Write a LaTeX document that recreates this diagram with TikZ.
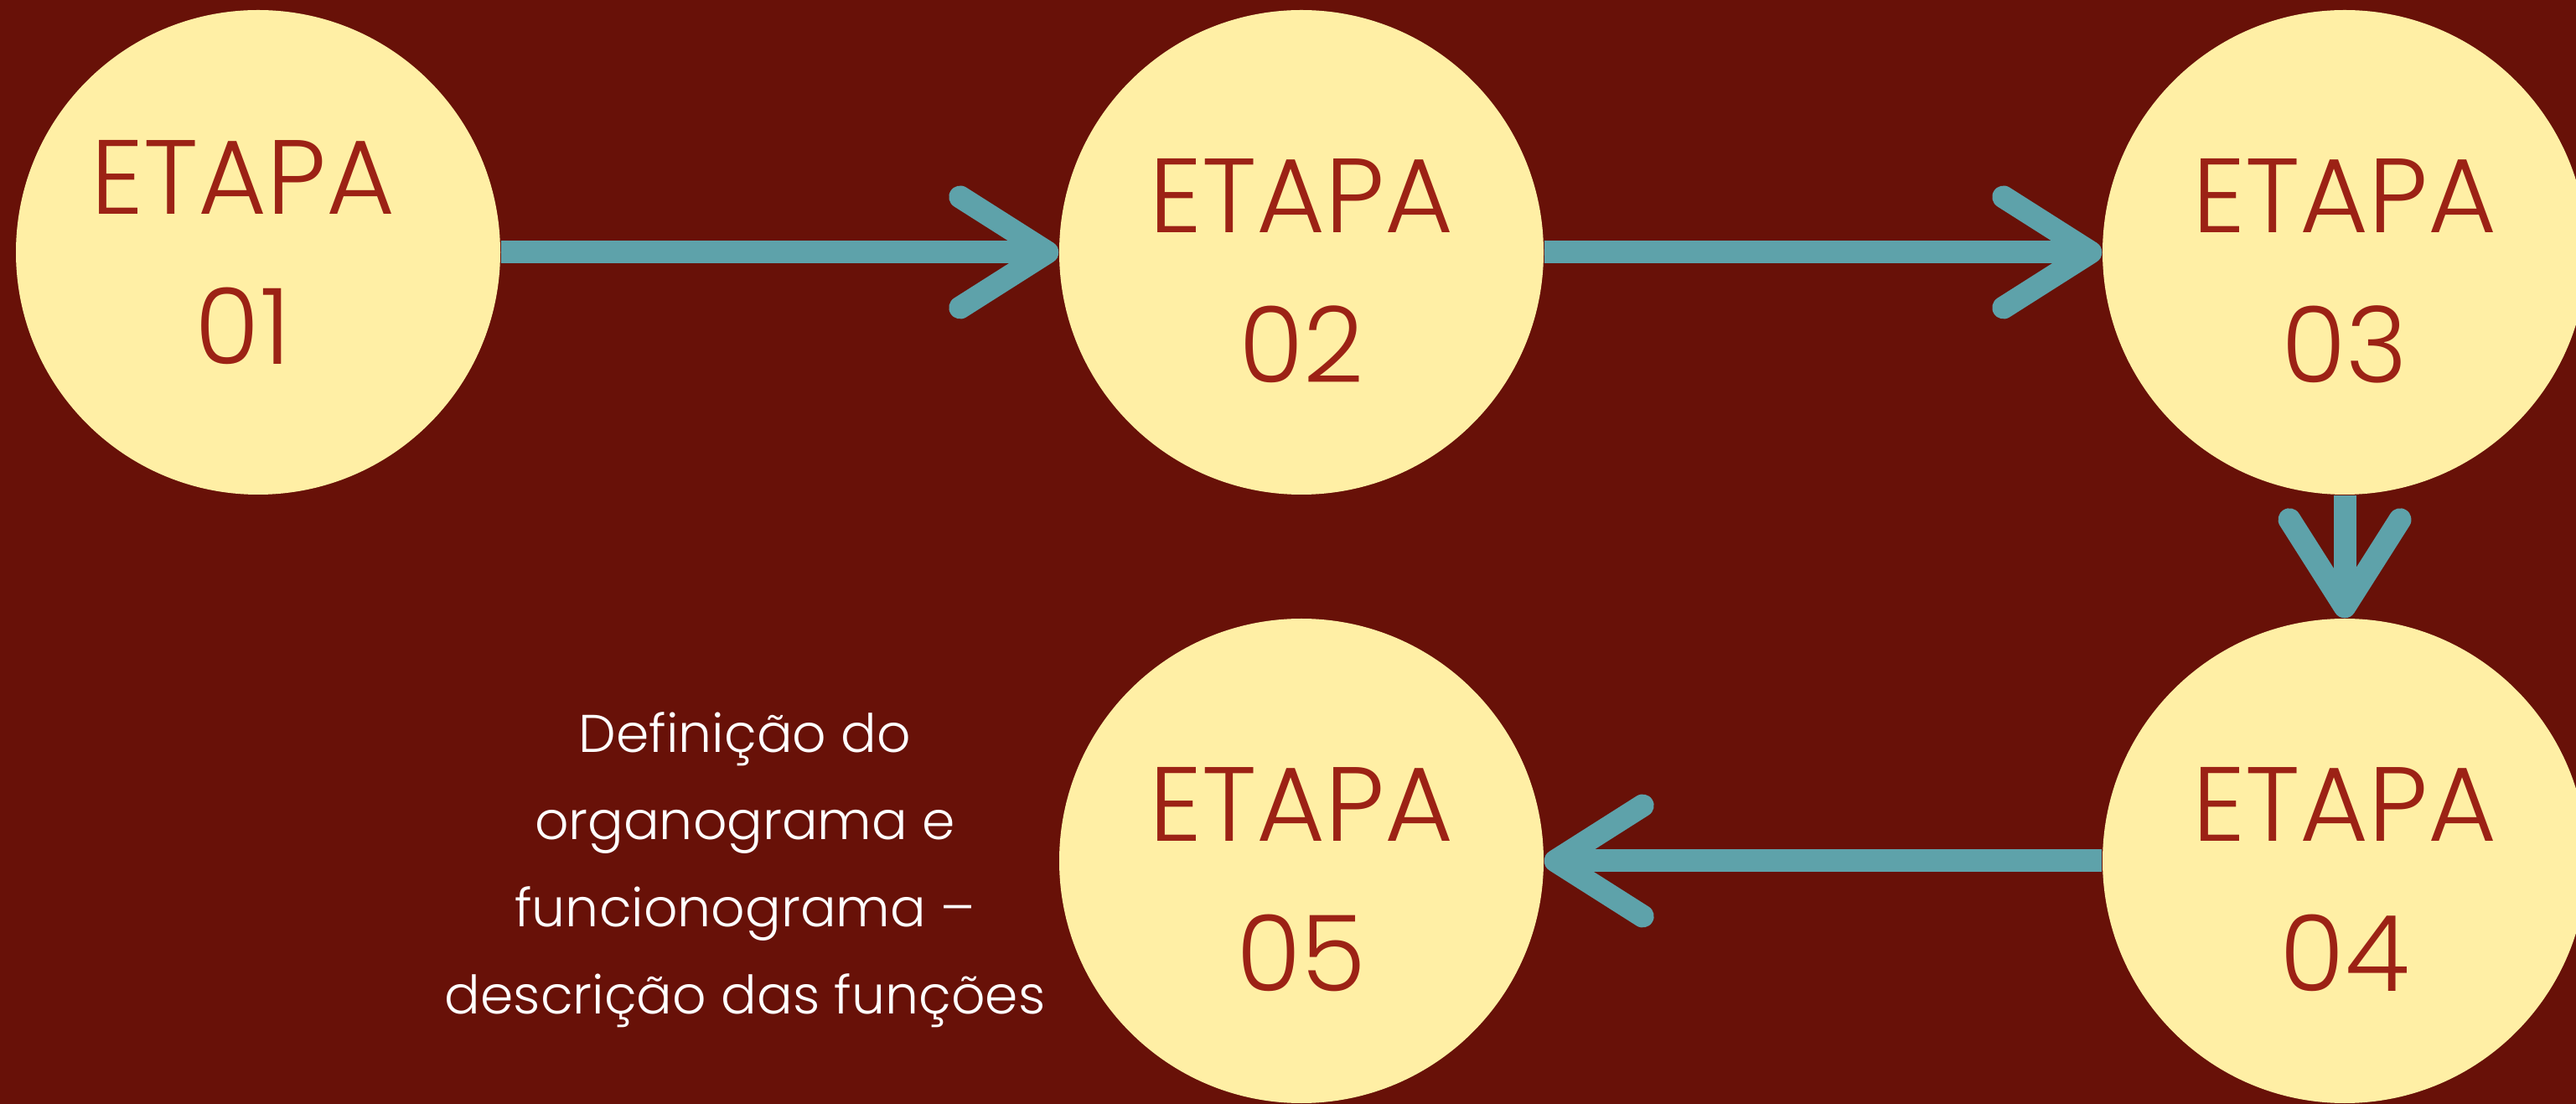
\documentclass[tikz,border=0pt]{standalone}
\usepackage{fontspec}
\newfontfamily\stepfont{Poppins Light}
\usetikzlibrary{positioning, arrows.meta}
\definecolor{bgred}{RGB}{104,17,8}
\definecolor{stepfill}{RGB}{255,239,165}
\definecolor{steptext}{RGB}{156,34,21}
\definecolor{arrowteal}{RGB}{94,162,170}
\tikzset{
    node distance=12.45cm, % Distance between the centres of two stages
    stage/.style={ % Sets the properties for each stage circle
        circle,
        fill=stepfill,
        minimum size=5.78cm,
        inner sep=0pt
    },
    stage text/.style={ % Text sits on the baseline of its last line
        anchor=south,
        align=center,
        inner sep=0pt,
        text depth=0pt,
        text=steptext,
        font=\stepfont\fontsize{35.8}{50.9}\selectfont
    },
    note text/.style={
        anchor=south,
        align=center,
        inner sep=0pt,
        text depth=0pt,
        text=white,
        font=\stepfont\fontsize{18}{29.6}\selectfont
    },
    every edge/.style={ % Sets the properties for each connector
        draw=arrowteal,
        line width=0.27cm,
        -{Straight Barb[length=1.04cm, width=1.32cm, round]}
    }
}

\begin{document}
\begin{tikzpicture}
    \useasboundingbox (0,0) rectangle (30.74,13.16);
    \fill[bgred] (-0.1,-0.1) rectangle (30.84,13.26);

    \node[stage]                      (c1) at (3.08,10.15) {};
    \node[stage, right of=c1]         (c2) {};
    \node[stage, right of=c2]         (c3) {};
    \node[stage, below of=c3, node distance=7.26cm] (c4) {};
    \node[stage, left of=c4]          (c5) {};

    \node[stage text] (t1) at ([xshift=-0.18cm, yshift=-1.34cm]c1) {ETAPA\\01};
    \node[stage text] (t2) at ([yshift=-1.56cm]c2) {ETAPA\\02};
    \node[stage text] (t3) at ([yshift=-1.56cm]c3) {ETAPA\\03};
    \node[stage text] (t4) at ([yshift=-1.56cm]c4) {ETAPA\\04};
    \node[stage text] (t5) at ([yshift=-1.56cm]c5) {ETAPA\\05};

    \node[note text] (note) at (8.89,1.06)
        {Definição do\\organograma e\\funcionograma –\\descrição das funções};

    \draw   (c1) edge (c2)
            (c2) edge (c3)
            (c3) edge (c4)
            (c4) edge (c5)
    ;
\end{tikzpicture}
\end{document}
